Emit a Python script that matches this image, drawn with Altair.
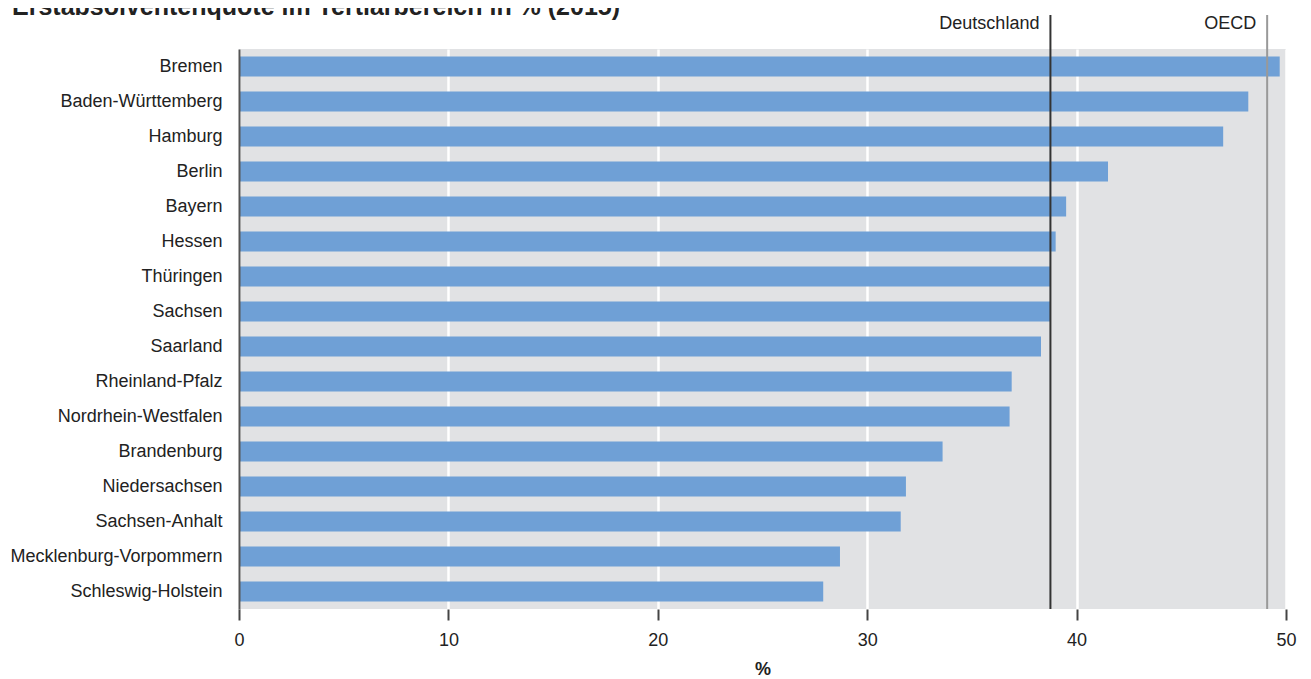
import altair as alt
import pandas as pd

FONT = "Liberation Sans"

laender = ["Bremen", "Baden-Württemberg", "Hamburg", "Berlin", "Bayern", "Hessen",
           "Thüringen", "Sachsen", "Saarland", "Rheinland-Pfalz", "Nordrhein-Westfalen",
           "Brandenburg", "Niedersachsen", "Sachsen-Anhalt", "Mecklenburg-Vorpommern",
           "Schleswig-Holstein"]
quote = [49.7, 48.2, 47.0, 41.5, 39.5, 39.0, 38.75, 38.75, 38.3, 36.9, 36.8,
         33.6, 31.85, 31.6, 28.7, 27.9]

ref_names = ["Deutschland", "OECD"]
ref_values = [38.75, 49.1]
ref_colors = ["#333333", "#999999"]

x_ticks = [0, 10, 20, 30, 40, 50]
title_text = "Erstabsolventenquote im Tertiärbereich in % (2015)"

df = pd.DataFrame({"land": laender, "quote": quote})
ref = pd.DataFrame({"name": ref_names, "value": ref_values, "color": ref_colors})
ttl = pd.DataFrame({"t": [title_text]})

x_scale = alt.Scale(domain=[0, 50], nice=False, zero=True)

bars = alt.Chart(df).mark_bar(color="#6fa0d6").encode(
    x=alt.X("quote:Q", scale=x_scale,
            axis=alt.Axis(values=x_ticks, title="%", grid=True, gridColor="white",
                          gridWidth=2.5, domain=False, ticks=True, tickSize=11,
                          tickColor="#444444", tickWidth=2, labelPadding=11,
                          labelFlush=False,
                          labelFontSize=18, labelColor="#222222", labelFont=FONT,
                          titleFont=FONT, titleFontSize=18, titleFontWeight="bold",
                          titleColor="#222222", titlePadding=11)),
    y=alt.Y("land:N", sort=laender, title=None,
            scale=alt.Scale(paddingInner=0.43, paddingOuter=0.215),
            axis=alt.Axis(ticks=False, domain=True, domainColor="#555555",
                          domainWidth=2, labelPadding=17, labelFontSize=18,
                          labelLimit=0, labelColor="#222222", labelFont=FONT,
                          zindex=1)),
)

rules = alt.Chart(ref).mark_rule(strokeWidth=2).encode(
    x=alt.X("value:Q", scale=x_scale),
    y=alt.value(-34),
    y2=alt.value(560),
    color=alt.Color("color:N", scale=None),
)

ref_text = alt.Chart(ref).mark_text(
    align="right", baseline="alphabetic", dx=-11, fontSize=18, font=FONT,
    color="#222222"
).encode(
    x=alt.X("value:Q", scale=x_scale),
    y=alt.value(-20),
    text="name:N",
)

title = alt.Chart(ttl).mark_text(
    align="left", baseline="alphabetic", fontSize=25, fontWeight="bold",
    font=FONT, color="#222222"
).encode(
    x=alt.value(-227),
    y=alt.value(-34),
    text="t:N",
)

chart = alt.layer(bars, rules, ref_text, title).properties(
    width=1047, height=560,
    autosize=alt.AutoSizeParams(type="none"),
    padding={"left": 231, "top": 41, "right": 15, "bottom": 70},
).configure_view(fill="#e1e2e4", stroke=None)

chart.save("out.html", embed_options={"renderer": "svg", "actions": False})
